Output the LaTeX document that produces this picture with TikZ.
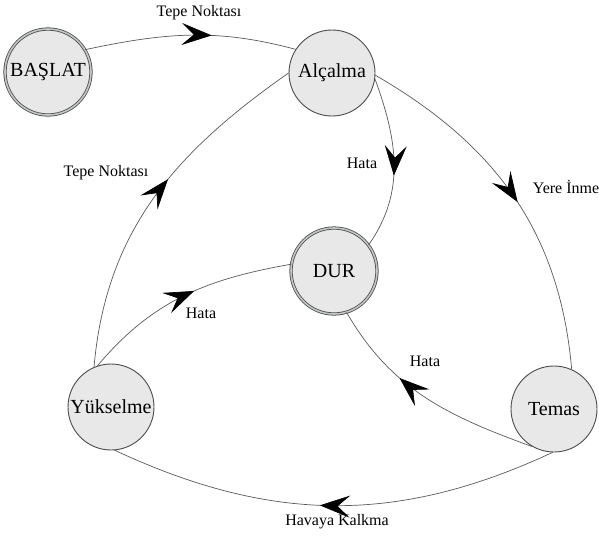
\documentclass[tikz,border=0pt]{standalone}
\usepackage{fontspec}
\setmainfont{Liberation Serif}
\newfontfamily\diagfont{Liberation Serif}
\usetikzlibrary{arrows.meta,decorations.markings}
\begin{document}
\begin{tikzpicture}[x=1pt, y=1pt, line join=round, line cap=round,
	state/.style={circle, draw=black!70, fill=black!9, line width=0.9pt, minimum size=86pt, inner sep=0pt, font=\diagfont\fontsize{20}{24}\selectfont},
	final/.style={state, double=cyan!12!black!28, double distance=1.6pt, line width=0.8pt},
	trans/.style={draw=black!65, line width=0.7pt, postaction={decorate},
		decoration={markings, mark=at position #1 with {\arrow[black]{Stealth[length=30pt, width=22pt, inset=12pt]}}}},
	lbl/.style={font=\diagfont\fontsize{16}{19}\selectfont}]
	\useasboundingbox (0,0) rectangle (599,-536);
	
	\node[final] (baslat) at (48,-72) {BAŞLAT};
	\node[state] (alcalma) at (332,-73) {Alçalma};
	\node[final] (dur) at (334,-271) {DUR};
	\node[state] (yukselme) at (111,-407) {Yükselme};
	\node[state] (temas) at (554,-409) {Temas};
	
	\draw[trans=0.6] (baslat.31) to[out=12, in=165] (alcalma.147);
	\draw[trans=0.56] (yukselme.113) to[out=85, in=215] (alcalma.180);
	\draw[trans=0.57] (alcalma.-8) to[out=-70, in=55] (dur.37);
	\draw[trans=0.52] (alcalma.-3) to[out=-30, in=95] (temas.66);
	\draw[trans=0.55] (yukselme.108) to[out=50, in=190] (dur.171);
	\draw[trans=0.64] (temas.-120) to[out=160, in=-60] (dur.-73);
	\draw[trans=0.53] (temas.-92) to[out=205, in=-25] (yukselme.-85);
	
	\node[lbl] (tepeA) at (199,-13) {Tepe Noktası};
	\node[lbl] (tepeB) at (106,-173) {Tepe Noktası};
	\node[lbl] (hataA) at (362,-163) {Hata};
	\node[lbl] (inme) at (566,-187) {Yere İnme};
	\node[lbl] (hataB) at (201,-313) {Hata};
	\node[lbl] (hataC) at (425,-361) {Hata};
	\node[lbl] (kalkma) at (337,-522) {Havaya Kalkma};
\end{tikzpicture}
\end{document}
